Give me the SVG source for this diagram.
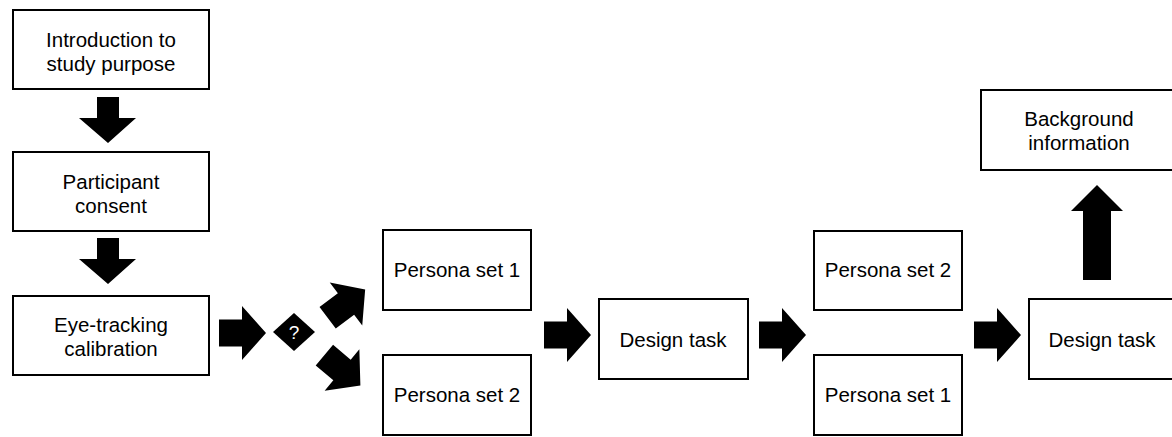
<svg xmlns="http://www.w3.org/2000/svg" width="1172" height="437" viewBox="0 0 1172 437">
<style>
.box{fill:#fff;stroke:#000;stroke-width:2}
.t{font-family:"Liberation Sans",Arial,sans-serif;font-size:20.5px;fill:#000;text-anchor:middle}
.ar{fill:#000;stroke:none}
</style>
<defs>
<polygon id="rarrow" points="-23,-13.5 0,-13.5 0,-27 24,0 0,27 0,13.5 -23,13.5"/>
</defs>
<rect width="1172" height="437" fill="#fff"/>
<g id="connectors">
<polygon class="ar" points="97,97 119,97 119,118 136,118 108,143 79,118 97,118"/>
<polygon class="ar" points="97,238 119,238 119,259 136,259 108,284 79,259 97,259"/>
<use href="#rarrow" class="ar" transform="translate(242,333)"/>
<polygon class="ar" points="273,332 294,313 315,332 294,351"/>
<text x="294" y="339" class="t" style="font-size:19px;fill:#fff">?</text>
<use href="#rarrow" class="ar" transform="translate(346,304) rotate(-37)"/>
<use href="#rarrow" class="ar" transform="translate(342,370) rotate(40)"/>
<use href="#rarrow" class="ar" transform="translate(567,335)"/>
<use href="#rarrow" class="ar" transform="translate(782,335)"/>
<use href="#rarrow" class="ar" transform="translate(997,335)"/>
<polygon class="ar" points="1083,280 1111,280 1111,211 1123,211 1097,185 1071,211 1083,211"/>
</g>
<g id="intro">
<rect class="box" x="13" y="10" width="196" height="79"/>
<text class="t" x="111" y="47">Introduction to</text>
<text class="t" x="111" y="71">study purpose</text>
</g>
<g id="consent">
<rect class="box" x="13" y="152" width="196" height="79"/>
<text class="t" x="111" y="189">Participant</text>
<text class="t" x="111" y="213">consent</text>
</g>
<g id="calibration">
<rect class="box" x="13" y="296" width="196" height="79"/>
<text class="t" x="111" y="332">Eye-tracking</text>
<text class="t" x="111" y="356">calibration</text>
</g>
<g id="persona1a">
<rect class="box" x="383" y="230" width="148" height="80"/>
<text class="t" x="457" y="277">Persona set 1</text>
</g>
<g id="persona2a">
<rect class="box" x="383" y="355" width="148" height="80"/>
<text class="t" x="457" y="402">Persona set 2</text>
</g>
<g id="design1">
<rect class="box" x="599" y="299" width="149" height="80"/>
<text class="t" x="673" y="347">Design task</text>
</g>
<g id="persona2b">
<rect class="box" x="814" y="231" width="148" height="79"/>
<text class="t" x="888" y="277">Persona set 2</text>
</g>
<g id="persona1b">
<rect class="box" x="814" y="355" width="148" height="80"/>
<text class="t" x="888" y="402">Persona set 1</text>
</g>
<g id="design2">
<rect class="box" x="1029" y="299" width="147" height="80"/>
<text class="t" x="1102" y="347">Design task</text>
</g>
<g id="background">
<rect class="box" x="981" y="90" width="198" height="80"/>
<text class="t" x="1079" y="126">Background</text>
<text class="t" x="1079" y="150">information</text>
</g>
</svg>
